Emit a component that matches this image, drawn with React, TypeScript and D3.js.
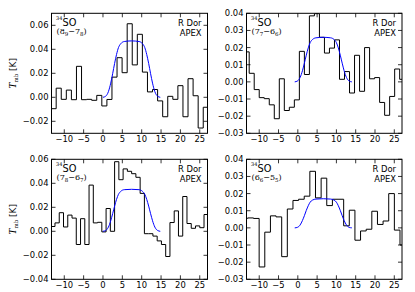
import React from 'react';
import * as d3 from 'd3';

// ---------- data ----------
const velocityTicks = [-10, -5, 0, 5, 10, 15, 20, 25];
const velocityDomain: [number, number] = [-13.3, 27.0];

// 34SO (8_9-7_8)
const p1Start = -13.4;
const p1Width = 1.31;
const p1Tmb = [-0.0095, 0.0076, -0.0017, 0.006, -0.002, 0.0258, -0.002, -0.0017, -0.0025, 0.0016,
  -0.0072, -0.0018, 0.0168, 0.033, 0.0205, 0.0613, 0.027, 0.0525, 0.021, 0.0045,
  0.0065, -0.003, -0.0162, 0.0008, -0.0017, 0.0097, -0.0162, 0.0155, 0.0013, -0.0256, -0.0083];

// 34SO (7_7-6_6)
const p2Start = -13.9;
const p2Width = 1.3;
const p2Tmb = [0.0175, 0.005, -0.0045, -0.0092, -0.0098, -0.0134, -0.0215, 0.0018, -0.0167, -0.0148,
  -0.0105, 0.0178, 0.0043, 0.0385, 0.0398, 0.026, 0.0168, 0.0197, 0.0245, 0.0015,
  0.006, -0.0065, 0.0155, -0.0055, 0.02, 0.0018, 0.0025, -0.012, -0.0195, -0.0085, 0.0075, 0.0015];

// 34SO (7_8-6_7)
const p3Start = -13.5;
const p3Width = 1.1;
const p3Tmb = [0.004, 0.007, 0.0155, 0.0036, 0.0135, 0.011, -0.011, 0.0105, -0.011, 0.0385,
  0.007, 0.0075, -0.0005, 0.019, 0.0, 0.058, 0.043, 0.052, 0.05, 0.048,
  0.045, 0.0316, -0.002, -0.002, -0.004, -0.008, -0.011, -0.021, 0.0073, 0.017,
  -0.004, 0.029, 0.0065, 0.0025, 0.0045, 0.003, 0.014, -0.007];

// 34SO (6_6-5_5)
const p4Start = -14.4;
const p4Width = 1.46;
const p4Tmb = [0.0056, 0.0058, 0.0055, -0.0228, -0.0025, 0.007, 0.0064, -0.0168, 0.011, 0.016,
  0.0167, 0.0185, 0.033, 0.0175, 0.029, 0.013, 0.0167, 0.0167, 0.0012, 0.0103,
  -0.0072, -0.0018, -0.0008, 0.0097, 0.002, 0.004, 0.02, -0.0013, -0.01];

// model profiles (blue)
const modelVelLeft = [0, 0.7, 1.4, 2.0, 2.5, 3.0, 3.5, 4.0, 4.6, 5.5, 7.4, 9.3, 10.2, 10.8, 11.3, 11.8, 12.3, 12.8, 13.4, 14.1, 14.8];
const modelVelRight = [-0.8, -0.1, 0.6, 1.2, 1.7, 2.2, 2.7, 3.2, 3.8, 4.7, 6.6, 8.5, 9.4, 10.0, 10.5, 11.0, 11.5, 12.0, 12.6, 13.3, 14.0];
const p1Model = [0, 0.0009, 0.0047, 0.0118, 0.0197, 0.0282, 0.0357, 0.0414, 0.0447, 0.0465, 0.047, 0.0465, 0.0447, 0.0414, 0.0357, 0.0282, 0.0197, 0.0118, 0.0047, 0.0009, 0];
const p2Model = [0, 0.0005, 0.0026, 0.0065, 0.0109, 0.0156, 0.0198, 0.0229, 0.0247, 0.0257, 0.026, 0.0257, 0.0247, 0.0229, 0.0198, 0.0156, 0.0109, 0.0065, 0.0026, 0.0005, 0];
const p3Model = [0, 0.0007, 0.0035, 0.0088, 0.0147, 0.021, 0.0266, 0.0308, 0.0333, 0.0347, 0.035, 0.0347, 0.0333, 0.0308, 0.0266, 0.021, 0.0147, 0.0088, 0.0035, 0.0007, 0];
const p4Model = [0, 0.0003, 0.0017, 0.0043, 0.0071, 0.0102, 0.0129, 0.015, 0.0162, 0.0168, 0.017, 0.0168, 0.0162, 0.015, 0.0129, 0.0102, 0.0071, 0.0043, 0.0017, 0.0003, 0];

const yTicks1 = [-0.02, 0, 0.02, 0.04, 0.06];
const yTicks2 = [-0.03, -0.02, -0.01, 0, 0.01, 0.02, 0.03, 0.04];
const yTicks3 = [-0.04, -0.02, 0, 0.02, 0.04, 0.06];
const yTicks4 = [-0.03, -0.02, -0.01, 0, 0.01, 0.02, 0.03, 0.04];

const lineNames = [
  { up: '8', upSub: '9', low: '7', lowSub: '8' },
  { up: '7', upSub: '7', low: '6', lowSub: '6' },
  { up: '7', upSub: '8', low: '6', lowSub: '7' },
  { up: '6', upSub: '6', low: '5', lowSub: '5' },
];

const FONT = '"DejaVu Sans", sans-serif';
const SERIF = '"DejaVu Serif", serif';

type PanelProps = {
  id: string;
  x0: number; x1: number; y0: number; y1: number;
  yDomain: [number, number];
  yTicks: number[];
  start: number; width: number; values: number[];
  modelV: number[]; modelT: number[];
  name: { up: string; upSub: string; low: string; lowSub: string };
  yLabel: boolean;
};

function Panel(p: PanelProps) {
  const x = d3.scaleLinear().domain(velocityDomain).range([p.x0, p.x1]);
  const y = d3.scaleLinear().domain(p.yDomain).range([p.y1, p.y0]);
  const pts: [number, number][] = p.values.map((v, i) => [p.start + i * p.width, v]);
  pts.push([p.start + p.values.length * p.width, p.values[p.values.length - 1]]);
  const stepLine = d3.line<[number, number]>().x(d => x(d[0])).y(d => y(d[1])).curve(d3.curveStepAfter);
  const modelPts: [number, number][] = p.modelV.map((v, i) => [v, p.modelT[i]]);
  const modelLine = d3.line<[number, number]>().x(d => x(d[0])).y(d => y(d[1])).curve(d3.curveMonotoneX);
  const fmt = d3.format('.2f');
  const tl = 4;
  const cy = (p.y0 + p.y1) / 2;
  return (
    <g>
      <defs>
        <clipPath id={p.id}>
          <rect x={p.x0} y={p.y0} width={p.x1 - p.x0} height={p.y1 - p.y0} />
        </clipPath>
      </defs>
      <g clipPath={`url(#${p.id})`}>
        <path d={stepLine(pts) || ''} fill="none" stroke="#000" strokeWidth={1} />
        <path d={modelLine(modelPts) || ''} fill="none" stroke="#0000ff" strokeWidth={1} />
      </g>
      <rect x={p.x0} y={p.y0} width={p.x1 - p.x0} height={p.y1 - p.y0} fill="none" stroke="#000" strokeWidth={1} />
      {velocityTicks.map(t => (
        <g key={'x' + t}>
          <line x1={x(t)} x2={x(t)} y1={p.y1} y2={p.y1 - tl} stroke="#000" strokeWidth={0.8} />
          <line x1={x(t)} x2={x(t)} y1={p.y0} y2={p.y0 + tl} stroke="#000" strokeWidth={0.8} />
          <text x={x(t)} y={p.y1 + 9} fontSize={8.4} fontFamily={FONT} textAnchor="middle">{d3.format('d')(t)}</text>
        </g>
      ))}
      {p.yTicks.map(t => (
        <g key={'y' + t}>
          <line x1={p.x0} x2={p.x0 + tl} y1={y(t)} y2={y(t)} stroke="#000" strokeWidth={0.8} />
          <line x1={p.x1} x2={p.x1 - tl} y1={y(t)} y2={y(t)} stroke="#000" strokeWidth={0.8} />
          <text x={p.x0 - 3} y={y(t) + 3} fontSize={8.4} fontFamily={FONT} textAnchor="end">{fmt(t)}</text>
        </g>
      ))}
      {/* species label */}
      <text x={p.x0 + 4.5} y={p.y0 + 7} fontSize={5} fontFamily={SERIF}>34</text>
      <text x={p.x0 + 11} y={p.y0 + 12.5} fontSize={9.8} fontFamily={FONT}>SO</text>
      <text x={p.x0 + 5} y={p.y0 + 21} fontSize={8} fontFamily={SERIF}>
        <tspan>({p.name.up}</tspan>
        <tspan fontSize={5.5} dy={1.8}>{p.name.upSub}</tspan>
        <tspan dy={-1.8}>{'\u2212'}{p.name.low}</tspan>
        <tspan fontSize={5.5} dy={1.8}>{p.name.lowSub}</tspan>
        <tspan dy={-1.8}>)</tspan>
      </text>
      <text x={p.x1 - 6} y={p.y0 + 12.5} fontSize={8.4} fontFamily={FONT} textAnchor="end">R Dor</text>
      <text x={p.x1 - 6} y={p.y0 + 23} fontSize={8.4} fontFamily={FONT} textAnchor="end">APEX</text>
      {p.yLabel && (
        <text transform={`translate(16,${cy}) rotate(-90)`} fontSize={9} fontFamily={FONT} textAnchor="middle">
          <tspan fontStyle="italic" fontFamily={SERIF}>T</tspan>
          <tspan fontSize={5.5} dy={1.8} fontFamily={SERIF}>mb</tspan>
          <tspan dy={-1.8}> [K]</tspan>
        </text>
      )}
    </g>
  );
}

export default function App() {
  const L = { x0: 51.5, x1: 207.5 };
  const R = { x0: 246.5, x1: 402 };
  const T = { y0: 13.3, y1: 133.3 };
  const B = { y0: 159.3, y1: 279.3 };
  return (
    <svg width={415} height={292} style={{ position: 'absolute', left: 0, top: 0, background: '#fff' }}>
      <rect x={0} y={0} width={415} height={292} fill="#fff" />
      <Panel id="c1" {...L} {...T} yDomain={[-0.03, 0.07]} yTicks={yTicks1}
        start={p1Start} width={p1Width} values={p1Tmb} modelV={modelVelLeft} modelT={p1Model}
        name={lineNames[0]} yLabel={true} />
      <Panel id="c2" {...R} {...T} yDomain={[-0.03, 0.04]} yTicks={yTicks2}
        start={p2Start} width={p2Width} values={p2Tmb} modelV={modelVelRight} modelT={p2Model}
        name={lineNames[1]} yLabel={false} />
      <Panel id="c3" {...L} {...B} yDomain={[-0.04, 0.06]} yTicks={yTicks3}
        start={p3Start} width={p3Width} values={p3Tmb} modelV={modelVelLeft} modelT={p3Model}
        name={lineNames[2]} yLabel={true} />
      <Panel id="c4" {...R} {...B} yDomain={[-0.03, 0.04]} yTicks={yTicks4}
        start={p4Start} width={p4Width} values={p4Tmb} modelV={modelVelRight} modelT={p4Model}
        name={lineNames[3]} yLabel={false} />
    </svg>
  );
}
